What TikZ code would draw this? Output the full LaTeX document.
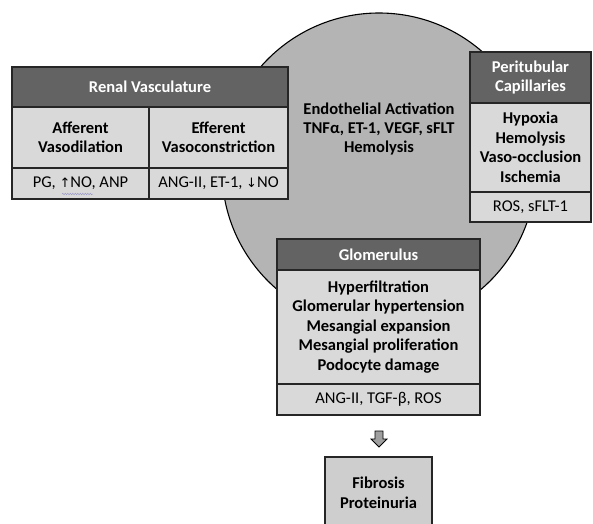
\documentclass[tikz,border=0pt]{standalone}
\usepackage{fontspec}
\setmainfont{Carlito}
\newfontfamily\arrowfont{DejaVu Sans}
\usetikzlibrary{decorations.pathmorphing}
\definecolor{headgray}{HTML}{636363}
\definecolor{cellgray}{HTML}{D9D9D9}
\definecolor{discgray}{HTML}{B4B4B4}
\tikzset{
  cell/.style={draw=black!85, line width=1.2pt, fill=cellgray, align=center,
    inner sep=0pt, font=\fontsize{16.5}{19.5}\selectfont\bfseries},
  head/.style={cell, fill=headgray, text=white},
  plain/.style={cell, font=\fontsize{16.5}{19.5}\selectfont}
}
\newcommand{\up}{{\arrowfont\fontsize{13}{13}\selectfont\char"2191}}
\newcommand{\down}{{\arrowfont\fontsize{13}{13}\selectfont\char"2193}}

\begin{document}
\begin{tikzpicture}[x=1pt, y=-1pt]
                \useasboundingbox (0,0) rectangle (593,523);

                % big disk
                \fill[discgray] (379,170) circle (157);
                \draw[line width=1.1pt] (379,170) circle (157);
                \node[align=center, font=\fontsize{16.5}{19}\selectfont\bfseries] (endo) at (379,129)
                    {Endothelial Activation\\TNFα, ET-1, VEGF, sFLT\\Hemolysis};

                % Renal vasculature table
                \node[head, minimum width=276pt, minimum height=40pt] (renal) at (150,87) {Renal Vasculature};
                \node[cell, minimum width=137pt, minimum height=61pt] (aff) at (80.5,137.5) {Afferent\\Vasodilation};
                \node[cell, minimum width=139pt, minimum height=61pt] (eff) at (218.5,137.5) {Efferent\\Vasoconstriction};
                \node[plain, minimum width=137pt, minimum height=31pt] (affmed) at (80.5,183.5) {PG, \up NO, ANP};
                \node[plain, minimum width=139pt, minimum height=31pt] (effmed) at (218.5,183.5) {ANG-II, ET-1, \down NO};
                \draw[blue!30!gray!60, line width=0.5pt, decorate, decoration={snake, amplitude=0.7pt, segment length=2.5pt}]
                    (62,194) -- (93,194); % squiggle under NO

                % Peritubular capillaries
                \node[head, minimum width=121pt, minimum height=51pt] (peri) at (530.5,77.5) {Peritubular\\Capillaries};
                \node[cell, minimum width=121pt, minimum height=89pt] (perib) at (530.5,147.5) {Hypoxia\\Hemolysis\\Vaso-occlusion\\Ischemia};
                \node[plain, minimum width=121pt, minimum height=30pt] (perim) at (530.5,207) {ROS, sFLT-1};

                % Glomerulus
                \node[head, minimum width=203pt, minimum height=31pt] (glom) at (378.5,254.5) {Glomerulus};
                \node[cell, minimum width=203pt, minimum height=114pt] (glomb) at (378.5,327)
                    {Hyperfiltration\\Glomerular hypertension\\Mesangial expansion\\Mesangial proliferation\\Podocyte damage};
                \node[plain, minimum width=203pt, minimum height=31pt] (glomm) at (378.5,399.5) {ANG-II, TGF-β, ROS};

                % Outcome
                \node[cell, fill=cellgray!95!black, minimum width=107pt, minimum height=72pt] (fib) at (378.5,493) {Fibrosis\\Proteinuria};

                % hollow arrow
                \draw[fill=gray!75, line width=0.8pt] (375,431) -- (383,431) -- (383,439) -- (387,439)
                    -- (379,447) -- (371,439) -- (375,439) -- cycle;
\end{tikzpicture}
\end{document}
